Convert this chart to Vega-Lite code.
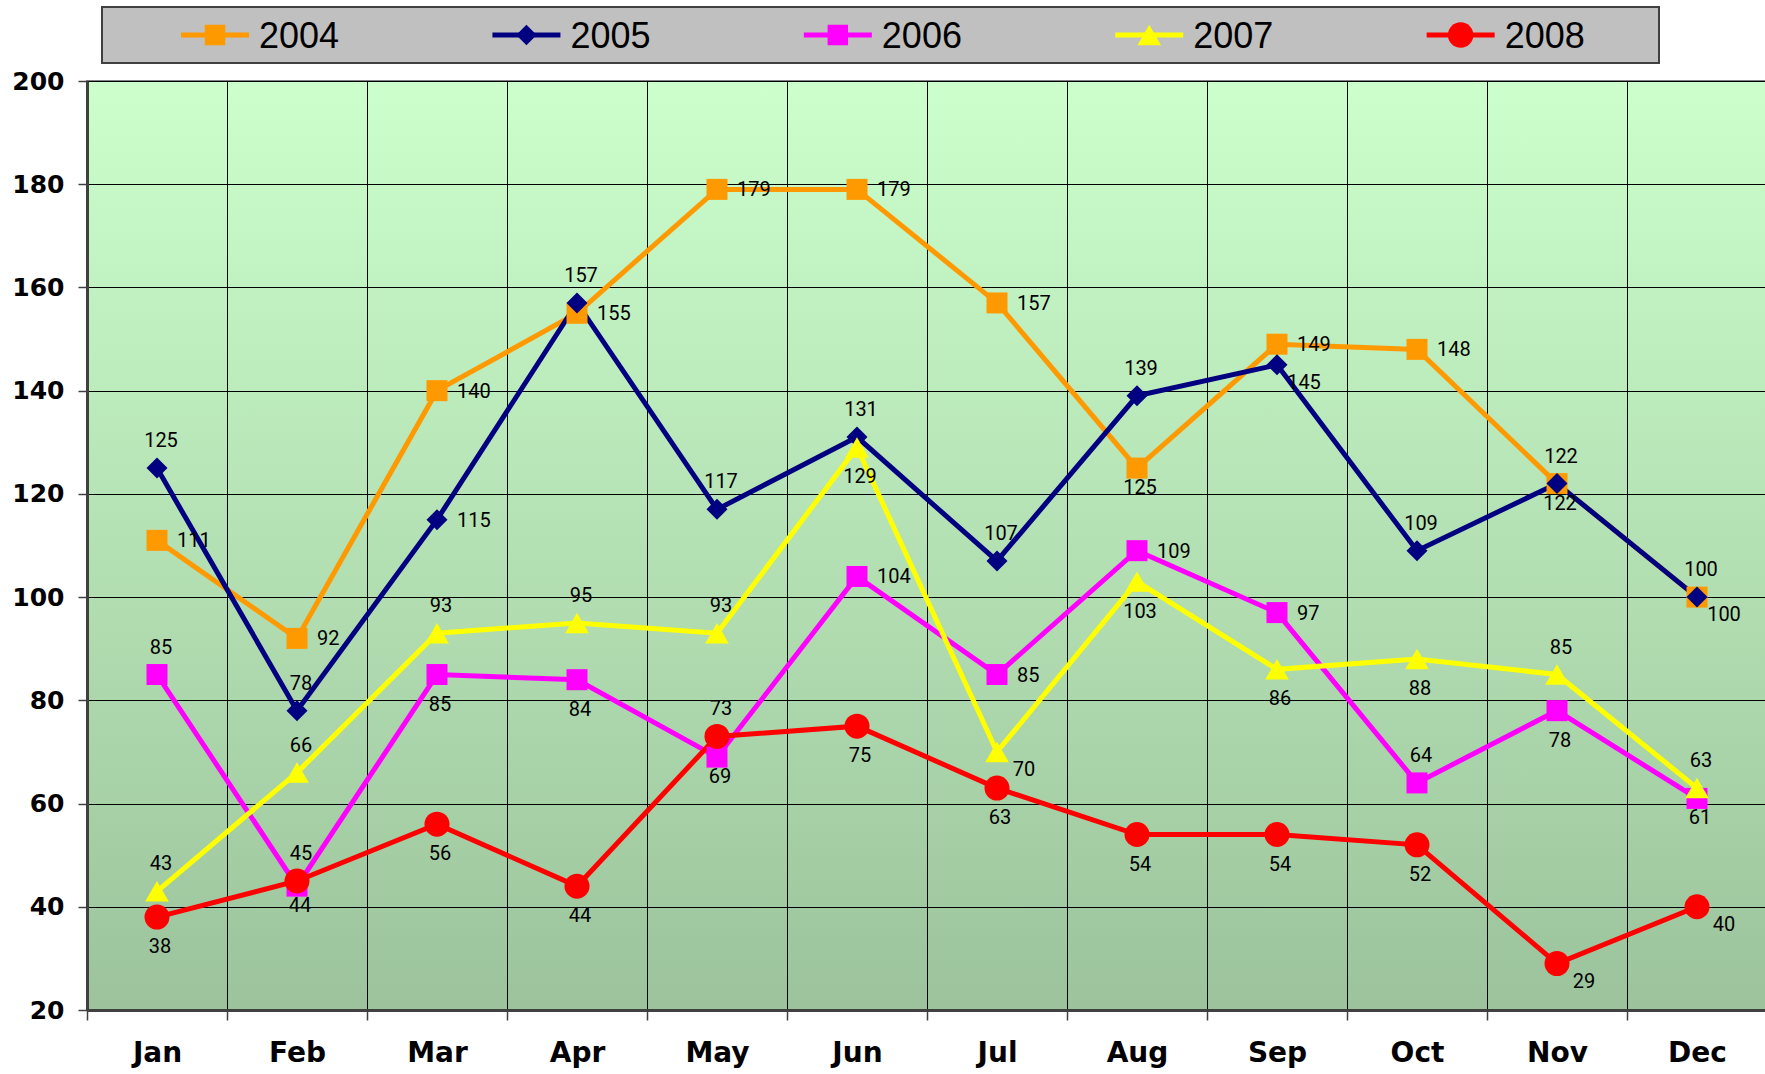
{
  "$schema": "https://vega.github.io/schema/vega-lite/v6.json",
  "background": "white",
  "padding": {"left": 10, "top": 6, "right": 0, "bottom": 0},
  "bounds": "flush",
  "spacing": 74,
  "datasets": {
    "blank": [{}],
    "legendItems": [
      {"year": "2004"}, {"year": "2005"}, {"year": "2006"}, {"year": "2007"}, {"year": "2008"}
    ],
    "sales": [
      {"year": "2004", "month": "Jan", "value": 111}, {"year": "2004", "month": "Feb", "value": 92}, {"year": "2004", "month": "Mar", "value": 140}, {"year": "2004", "month": "Apr", "value": 155}, {"year": "2004", "month": "May", "value": 179}, {"year": "2004", "month": "Jun", "value": 179}, {"year": "2004", "month": "Jul", "value": 157}, {"year": "2004", "month": "Aug", "value": 125}, {"year": "2004", "month": "Sep", "value": 149}, {"year": "2004", "month": "Oct", "value": 148}, {"year": "2004", "month": "Nov", "value": 122}, {"year": "2004", "month": "Dec", "value": 100},
      {"year": "2005", "month": "Jan", "value": 125}, {"year": "2005", "month": "Feb", "value": 78}, {"year": "2005", "month": "Mar", "value": 115}, {"year": "2005", "month": "Apr", "value": 157}, {"year": "2005", "month": "May", "value": 117}, {"year": "2005", "month": "Jun", "value": 131}, {"year": "2005", "month": "Jul", "value": 107}, {"year": "2005", "month": "Aug", "value": 139}, {"year": "2005", "month": "Sep", "value": 145}, {"year": "2005", "month": "Oct", "value": 109}, {"year": "2005", "month": "Nov", "value": 122}, {"year": "2005", "month": "Dec", "value": 100},
      {"year": "2006", "month": "Jan", "value": 85}, {"year": "2006", "month": "Feb", "value": 44}, {"year": "2006", "month": "Mar", "value": 85}, {"year": "2006", "month": "Apr", "value": 84}, {"year": "2006", "month": "May", "value": 69}, {"year": "2006", "month": "Jun", "value": 104}, {"year": "2006", "month": "Jul", "value": 85}, {"year": "2006", "month": "Aug", "value": 109}, {"year": "2006", "month": "Sep", "value": 97}, {"year": "2006", "month": "Oct", "value": 64}, {"year": "2006", "month": "Nov", "value": 78}, {"year": "2006", "month": "Dec", "value": 61},
      {"year": "2007", "month": "Jan", "value": 43}, {"year": "2007", "month": "Feb", "value": 66}, {"year": "2007", "month": "Mar", "value": 93}, {"year": "2007", "month": "Apr", "value": 95}, {"year": "2007", "month": "May", "value": 93}, {"year": "2007", "month": "Jun", "value": 129}, {"year": "2007", "month": "Jul", "value": 70}, {"year": "2007", "month": "Aug", "value": 103}, {"year": "2007", "month": "Sep", "value": 86}, {"year": "2007", "month": "Oct", "value": 88}, {"year": "2007", "month": "Nov", "value": 85}, {"year": "2007", "month": "Dec", "value": 63},
      {"year": "2008", "month": "Jan", "value": 38}, {"year": "2008", "month": "Feb", "value": 45}, {"year": "2008", "month": "Mar", "value": 56}, {"year": "2008", "month": "Apr", "value": 44}, {"year": "2008", "month": "May", "value": 73}, {"year": "2008", "month": "Jun", "value": 75}, {"year": "2008", "month": "Jul", "value": 63}, {"year": "2008", "month": "Aug", "value": 54}, {"year": "2008", "month": "Sep", "value": 54}, {"year": "2008", "month": "Oct", "value": 52}, {"year": "2008", "month": "Nov", "value": 29}, {"year": "2008", "month": "Dec", "value": 40}
    ]
  },
  "vconcat": [
    {
      "spacing": 0,
      "hconcat": [
        {
          "width": 14,
          "height": 56,
          "data": {"name": "blank"},
          "view": {"stroke": null, "fill": null},
          "mark": {"type": "point", "opacity": 0},
          "encoding": {}
        },
        {
          "width": 1557,
          "height": 56,
          "data": {"name": "legendItems"},
          "view": {"fill": "#C0C0C0", "stroke": "#404040", "strokeWidth": 2},
          "encoding": {
            "x": {"field": "year", "type": "nominal", "scale": {"type": "point", "padding": 0.5, "align": 0.363}, "axis": null},
            "color": {"field": "year", "type": "nominal", "scale": {"domain": ["2004", "2005", "2006", "2007", "2008"], "range": ["#FF9900", "#000080", "#FF00FF", "#FFFF00", "#FF0000"]}, "legend": null}
          },
          "layer": [
            {"mark": {"type": "tick", "orient": "horizontal", "size": 68, "thickness": 5, "opacity": 1}},
            {
              "mark": {"type": "point", "filled": true, "opacity": 1},
              "encoding": {
                "shape": {"field": "year", "type": "nominal", "scale": {"domain": ["2004", "2005", "2006", "2007", "2008"], "range": ["square", "diamond", "square", "triangle-up", "circle"]}, "legend": null},
                "size": {"condition": [{"test": "datum.year === '2008'", "value": 650}, {"test": "datum.year === '2007'", "value": 560}], "value": 420}
              }
            },
            {
              "mark": {"type": "text", "align": "left", "baseline": "middle", "dx": 44, "dy": 2, "font": "Liberation Sans", "fontSize": 36},
              "encoding": {"text": {"field": "year"}, "color": {"value": "#000000"}}
            }
          ]
        }
      ]
    },
    {
      "width": 1680,
      "height": 929,
      "data": {"name": "sales"},
      "view": {
        "fill": {"gradient": "linear", "x1": 0, "y1": 0, "x2": 0, "y2": 1, "stops": [{"offset": 0, "color": "#CCFFCC"}, {"offset": 1, "color": "#9CC39C"}]},
        "stroke": "#808080",
        "strokeWidth": 2
      },
      "encoding": {
        "x": {
          "field": "month", "type": "ordinal",
          "sort": ["Jan", "Feb", "Mar", "Apr", "May", "Jun", "Jul", "Aug", "Sep", "Oct", "Nov", "Dec"],
          "scale": {"type": "band", "paddingInner": 0, "paddingOuter": 0, "domain": ["Jan", "Feb", "Mar", "Apr", "May", "Jun", "Jul", "Aug", "Sep", "Oct", "Nov", "Dec"]},
          "axis": {"title": null, "tickBand": "extent", "grid": true, "gridColor": "#000000", "gridWidth": 1, "gridOpacity": 1, "domainColor": "#404040", "domainWidth": 3, "tickColor": "#404040", "tickWidth": 1.5, "tickSize": 10, "labelFont": "DejaVu Sans", "labelFontWeight": "bold", "labelFontSize": 28, "labelColor": "#000000", "labelPadding": 19, "labelAngle": 0}
        },
        "y": {
          "field": "value", "type": "quantitative",
          "scale": {"domain": [20, 200], "nice": false, "zero": false},
          "axis": {"title": null, "values": [20, 40, 60, 80, 100, 120, 140, 160, 180, 200], "grid": true, "gridColor": "#000000", "gridWidth": 1, "gridOpacity": 1, "domainColor": "#404040", "domainWidth": 3, "tickColor": "#404040", "tickWidth": 1.5, "tickSize": 9, "labelFont": "DejaVu Sans", "labelFontWeight": "bold", "labelFontSize": 25, "labelColor": "#000000", "labelPadding": 14}
        },
        "color": {"field": "year", "type": "nominal", "scale": {"domain": ["2004", "2005", "2006", "2007", "2008"], "range": ["#FF9900", "#000080", "#FF00FF", "#FFFF00", "#FF0000"]}, "legend": null}
      },
      "layer": [
        {"mark": {"type": "line", "strokeWidth": 5, "strokeJoin": "miter"}},
        {
          "mark": {"type": "point", "filled": true, "opacity": 1},
          "encoding": {
            "shape": {"field": "year", "type": "nominal", "scale": {"domain": ["2004", "2005", "2006", "2007", "2008"], "range": ["square", "diamond", "square", "triangle-up", "circle"]}, "legend": null},
            "size": {"condition": [{"test": "datum.year === '2008'", "value": 625}, {"test": "datum.year === '2007'", "value": 560}], "value": 441}
          }
        },
        {
          "transform": [{"filter": "indexof(['2005Jan','2005Feb','2005Apr','2005May','2005Jun','2005Jul','2005Aug','2005Oct','2005Nov','2005Dec','2006Jan','2006Oct','2007Jan','2007Feb','2007Mar','2007Apr','2007May','2007Nov','2007Dec','2008Feb','2008May'], datum.year + datum.month) >= 0"}],
          "mark": {"type": "text", "align": "center", "baseline": "alphabetic", "dx": 4, "dy": -21, "font": "Roboto", "fontSize": 20},
          "encoding": {"text": {"field": "value", "type": "quantitative"}, "color": {"value": "#000000"}}
        },
        {
          "transform": [{"filter": "indexof(['2006Mar','2006Apr','2006Nov','2007Jun','2007Aug','2007Sep','2007Oct','2008Jan','2008Mar','2008Apr','2008Jun','2008Jul','2008Aug','2008Sep','2008Oct'], datum.year + datum.month) >= 0"}],
          "mark": {"type": "text", "align": "center", "baseline": "alphabetic", "dx": 3, "dy": 36, "font": "Roboto", "fontSize": 20},
          "encoding": {"text": {"field": "value", "type": "quantitative"}, "color": {"value": "#000000"}}
        },
        {
          "transform": [{"filter": "indexof(['2004Aug','2004Nov','2006Feb','2006May','2006Dec'], datum.year + datum.month) >= 0"}],
          "mark": {"type": "text", "align": "center", "baseline": "alphabetic", "dx": 3, "dy": 26, "font": "Roboto", "fontSize": 20},
          "encoding": {"text": {"field": "value", "type": "quantitative"}, "color": {"value": "#000000"}}
        },
        {
          "transform": [{"filter": "indexof(['2004Jan','2004Feb','2004Mar','2004Apr','2004May','2004Jun','2004Jul','2004Sep','2004Oct','2005Mar','2006Jun','2006Jul','2006Aug','2006Sep'], datum.year + datum.month) >= 0"}],
          "mark": {"type": "text", "align": "left", "baseline": "alphabetic", "dx": 20, "dy": 7, "font": "Roboto", "fontSize": 20},
          "encoding": {"text": {"field": "value", "type": "quantitative"}, "color": {"value": "#000000"}}
        },
        {
          "transform": [{"filter": "indexof(['2004Dec','2005Sep','2007Jul','2008Nov','2008Dec'], datum.year + datum.month) >= 0"}],
          "mark": {"type": "text", "align": "center", "baseline": "alphabetic", "dx": 27, "dy": 24, "font": "Roboto", "fontSize": 20},
          "encoding": {"text": {"field": "value", "type": "quantitative"}, "color": {"value": "#000000"}}
        }
      ]
    }
  ]
}
